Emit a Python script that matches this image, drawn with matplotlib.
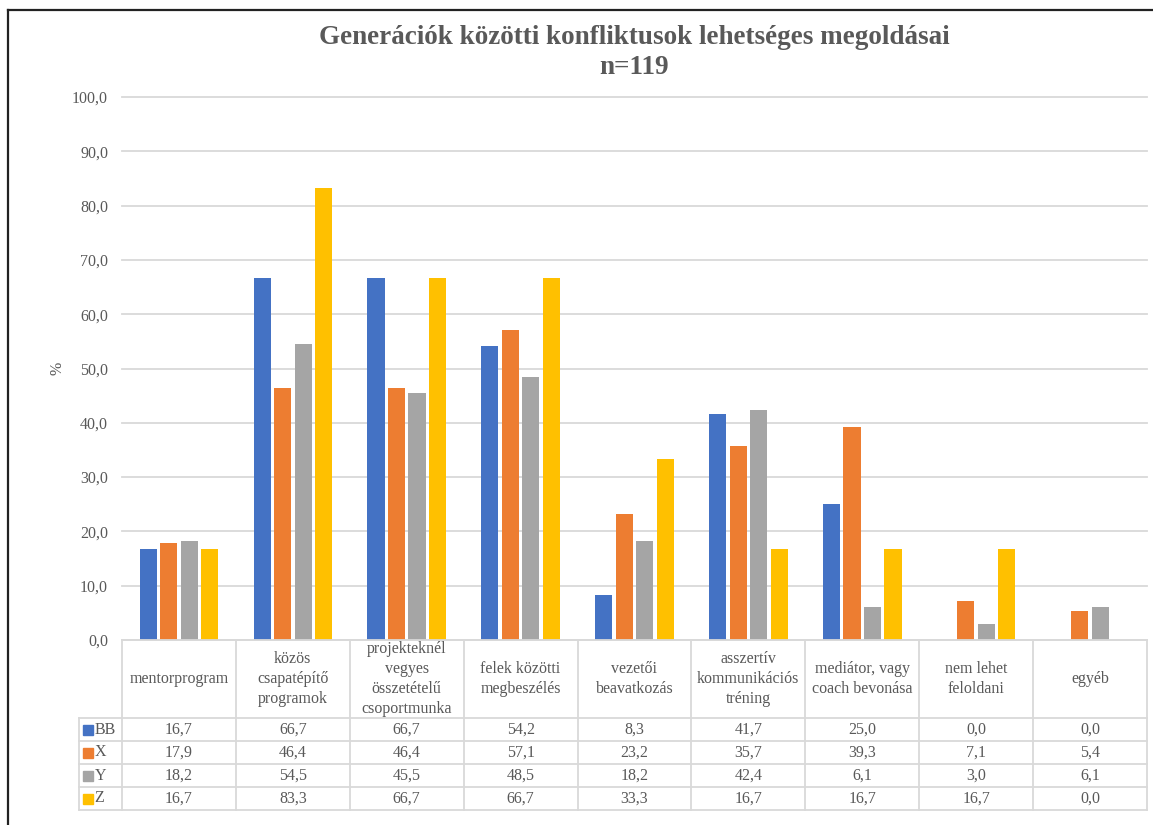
import numpy as np
import matplotlib
matplotlib.use('Agg')
import matplotlib.pyplot as plt
from matplotlib.lines import Line2D

plt.rcParams['font.family'] = ['Liberation Serif', 'DejaVu Serif']

categories = ['mentorprogram', 'közös\ncsapatépítő\nprogramok',
              'projekteknél\nvegyes\nösszetételű\ncsoportmunka',
              'felek közötti\nmegbeszélés', 'vezetői\nbeavatkozás',
              'asszertív\nkommunikációs\ntréning', 'mediátor, vagy\ncoach bevonása',
              'nem lehet\nfeloldani', 'egyéb']
series_names = ['BB', 'X', 'Y', 'Z']
bb = [16.7, 66.7, 66.7, 54.2, 8.3, 41.7, 25.0, 0.0, 0.0]
x_gen = [17.9, 46.4, 46.4, 57.1, 23.2, 35.7, 39.3, 7.1, 5.4]
y_gen = [18.2, 54.5, 45.5, 48.5, 18.2, 42.4, 6.1, 3.0, 6.1]
z_gen = [16.7, 83.3, 66.7, 66.7, 33.3, 16.7, 16.7, 16.7, 0.0]
values = [bb, x_gen, y_gen, z_gen]
colors = ['#4472C4', '#ED7D31', '#A5A5A5', '#FFC000']
yticks = np.arange(0, 101, 10)

TXT = '#595959'
GRID = '#D9D9D9'
W, H = 1153, 825

fig = plt.figure(figsize=(W / 100, H / 100), dpi=100)

# chart frame (only left and top visible in the reference crop)
fig.add_artist(Line2D([8 / W, 8 / W], [0, 1 - 10 / H], color='#222222', lw=1.6))
fig.add_artist(Line2D([8 / W, 1], [1 - 10 / H, 1 - 10 / H], color='#222222', lw=1.6))

# main bar axes
ax = fig.add_axes([122 / W, 1 - 640 / H, (1147 - 122) / W, (640 - 97) / H])
n = len(categories)
xpos = np.arange(n) + 0.5
for k, (vals, c) in enumerate(zip(values, colors)):
    ax.bar(xpos + (k - 1.5) * 0.18, vals, width=0.15, color=c, zorder=3)

ax.set_xlim(0, n)
ax.set_ylim(0, 100)
ax.set_yticks(yticks)
ax.set_yticklabels([f'{v:.1f}'.replace('.', ',') for v in yticks], color=TXT, fontsize=11.5)
ax.tick_params(axis='y', length=0, pad=10)
ax.set_xticks([])
for s in ax.spines.values():
    s.set_visible(False)
ax.yaxis.grid(True, color=GRID, lw=1.3)
for gl in ax.get_ygridlines():
    gl.set_clip_on(False)
ax.set_axisbelow(True)

fig.text(57 / W, 1 - 368 / H, '%', rotation=90, ha='center', va='center',
         color=TXT, fontsize=11.5)
fig.text(634 / W, 1 - 38 / H, 'Generációk közötti konfliktusok lehetséges megoldásai',
         ha='center', va='center', fontsize=19.5, fontweight='bold', color=TXT)
fig.text(634 / W, 1 - 67 / H, 'n=119', ha='center', va='center',
         fontsize=19.5, fontweight='bold', color=TXT)

# data table below the chart
leg_w = 43 / 114
header_h = 78
row_h = 23
nrows = len(series_names)
total_h = header_h + row_h * nrows
tab = fig.add_axes([79 / W, 1 - 810 / H, (1147 - 79) / W, total_h / H])
tab.set_xlim(-leg_w, n)
tab.set_ylim(total_h, 0)
tab.axis('off')

lk = dict(color=GRID, lw=1.3, clip_on=False)
# horizontal lines
tab.plot([0, n], [0, 0], **lk)
for r in range(nrows + 1):
    yy = header_h + r * row_h
    tab.plot([-leg_w, n], [yy, yy], **lk)
# vertical lines
tab.plot([-leg_w, -leg_w], [header_h, total_h], **lk)
for i in range(n + 1):
    tab.plot([i, i], [0, total_h], **lk)

for i, cat in enumerate(categories):
    tab.text(i + 0.5, header_h / 2, cat, ha='center', va='center',
             fontsize=11.5, color=TXT, linespacing=1.35)

for r, (name, vals, c) in enumerate(zip(series_names, values, colors)):
    yc = header_h + (r + 0.5) * row_h
    tab.plot([-leg_w + 0.08], [yc], marker='s', markersize=6.5, color=c, clip_on=False)
    tab.text(-leg_w + 0.135, yc, name, ha='left', va='center', fontsize=11.5, color=TXT)
    for i, v in enumerate(vals):
        tab.text(i + 0.5, yc, f'{v:.1f}'.replace('.', ','), ha='center', va='center',
                 fontsize=11.5, color=TXT)

fig.savefig('out.png', dpi=100, facecolor='white')
